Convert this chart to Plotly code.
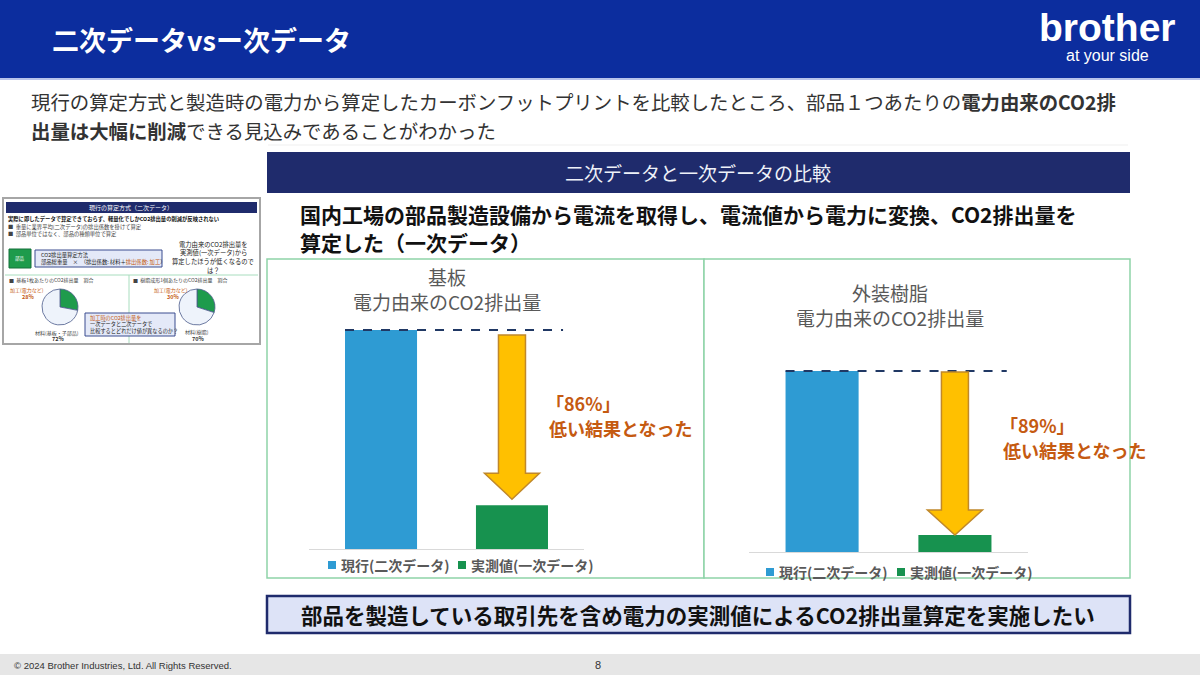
import plotly.graph_objects as go

W, H = 1200, 675
JP = "Noto Sans CJK JP"

# ---------------- data ----------------
categories = ["現行(二次データ)", "実測値(一次データ)"]
kiban_values = [100, 20]      # 基板 (relative)
jushi_values = [100, 9.4]     # 外装樹脂
chart_titles = ["基板<br>電力由来のCO2排出量", "外装樹脂<br>電力由来のCO2排出量"]
reduction_labels = ["「86%」", "「89%」"]
reduction_text = "低い結果となった"
pie_labels_kiban = ["加工(電力など)", "材料(基板・子部品)"]
pie_values_kiban = [28, 72]
pie_labels_jushi = ["加工(電力など)", "材料(樹脂)"]
pie_values_jushi = [30, 70]

BLUE = "#2E9BD3"
GREEN = "#17924F"
NAVY = "#1F2B6C"
ORANGE = "#C55A11"


def X(px):
    return px / W


def Y(py):
    return 1 - py / H


shapes = []
annotations = []


def rect(x0, y0, x1, y1, fill, line=None, lw=0, layer="below"):
    shapes.append(dict(type="rect", xref="paper", yref="paper",
                       x0=X(x0), x1=X(x1), y0=Y(y1), y1=Y(y0),
                       fillcolor=fill, layer=layer,
                       line=dict(color=line or fill, width=lw)))


def hline(x0, x1, y, color, lw=1, dash="solid", layer="below"):
    shapes.append(dict(type="line", xref="paper", yref="paper",
                       x0=X(x0), x1=X(x1), y0=Y(y), y1=Y(y),
                       line=dict(color=color, width=lw, dash=dash), layer=layer))


def vline(x, y0, y1, color, lw=1):
    shapes.append(dict(type="line", xref="paper", yref="paper",
                       x0=X(x), x1=X(x), y0=Y(y0), y1=Y(y1),
                       line=dict(color=color, width=lw), layer="below"))


def text(t, x, y, size, color="#262626", xanchor="left", bold=False, family=JP, align="left"):
    annotations.append(dict(text=t, x=X(x), y=Y(y), xref="paper", yref="paper",
                            xanchor=xanchor, yanchor="middle", showarrow=False,
                            align=align,
                            font=dict(size=size, color=color, family=family,
                                      weight="bold" if bold else "normal")))


# ---------------- header ----------------
rect(0, 0, 1200, 78, "#0C2D9E")
hline(0, 1200, 79, "#B7C3EA", 2)
text("二次データvsー次データ", 50, 40, 27, "white", bold=True)
text("brother", 1107, 28, 39, "white", "center", True, "Liberation Sans")
text("at your side", 1107, 55, 16, "white", "center", False, "Liberation Sans")

# ---------------- body text ----------------
text("現行の算定方式と製造時の電力から算定したカーボンフットプリントを比較したところ、部品１つあたりの<b>電力由来のCO2排</b>",
     29, 102, 19.4, "#333333")
text("<b>出量は大幅に削減</b>できる見込みであることがわかった", 29, 130, 19.4, "#333333")
hline(268, 1128, 145, "#EFEFEF", 1)

# section bar
rect(267, 152, 1130, 193, NAVY)
text("二次データと一次データの比較", 698, 173, 19, "#EEF1F8", "center")
text("国内工場の部品製造設備から電流を取得し、電流値から電力に変換、CO2排出量を", 298, 214, 21, "#111111", bold=True)
text("算定した（一次データ）", 298, 242, 21, "#111111", bold=True)

# chart panels
rect(267, 259, 704, 578, "white", "#8ED3A8", 1.5)
rect(704, 259, 1130, 578, "white", "#8ED3A8", 1.5)

# bottom box
rect(267, 596, 1130, 633, "#DDE3F7", NAVY, 2.5)
text("部品を製造している取引先を含め電力の実測値によるCO2排出量算定を実施したい", 698, 614, 21.5, "#111111", "center", True)

# footer
rect(0, 654, 1200, 675, "#E6E6E6")
text("© 2024 Brother Industries, Ltd. All Rights Reserved.", 12, 665, 9.5, "#333333", family="Liberation Sans")
text("8", 598, 665, 11, "#333333", "center", family="Liberation Sans")

# ---------------- thumbnail slide ----------------
rect(3, 198, 260, 344, "white", "#A6A6A6", 2)
rect(6, 202, 257, 213, NAVY)
text("現行の算定方式（二次データ）", 131, 207.5, 6, "white", "center")
text("実際に即したデータで算定できておらず、軽量化でしかCO2排出量の削減が反映されない", 6, 219, 5.3, "#111111", bold=True)
text("■  重量に業界平均(二次データ)の排出係数を掛けて算定", 6, 227, 5.3, "#444444")
text("■  部品単位ではなく、部品の種類単位で算定", 6, 234, 5.3, "#444444")
rect(9, 249, 31, 268, "#1E9B4C", "#14703A", 1)
text("部品", 20, 259, 4.5, "white", "center")
rect(35, 250, 162, 267, "#E4E9F8", "#3A4C8F", 1)
text("CO2排出量算定方法", 39, 255, 5.3, "#222222")
text("部品総重量　×　（排出係数: 材料＋<span style='color:#C55A11'>排出係数: 加工</span>）", 39, 262, 5.3, "#222222")
for i, ln in enumerate(["電力由来のCO2排出量を", "実測値(一次データ)から", "算定したほうが低くなるので", "は？"]):
    text(ln, 213, 244 + i * 8.7, 6.3, "#222222", "center")
hline(5, 258, 275, "#A8DDBE", 1)
vline(129, 275, 343, "#A8DDBE", 1)
text("■  基板1枚あたりのCO2排出量　割合", 7, 280, 5.0, "#444444")
text("■  樹脂成形1個あたりのCO2排出量　割合", 131, 280, 5.0, "#444444")
text("加工(電力など)", 27, 290, 5.0, ORANGE, "center")
text("28%", 28, 297, 5.5, ORANGE, "center", True)
text("材料(基板・子部品)", 57, 333, 5.0, "#444444", "center")
text("72%", 58, 339, 5.5, "#333333", "center", True)
text("加工(電力など)", 171, 290, 5.0, ORANGE, "center")
text("30%", 173, 297, 5.5, ORANGE, "center", True)
text("材料(樹脂)", 197, 332, 5.0, "#444444", "center")
text("70%", 198, 339, 5.5, "#333333", "center", True)
rect(85, 313, 175, 336, "#E4E9F8", "#3A4C8F", 1, layer="above")
text("<span style='color:#C55A11'>加工時のCO2排出量を</span>", 88, 318, 5.2, ORANGE)
text("一次データと二次データで", 88, 324.5, 5.2, "#222222")
text("比較するとどれだけ値が異なるのか？", 88, 331, 5.2, "#222222")

# ---------------- bar charts ----------------
XR = [-0.55, 1.55]
YR = [0, 110]
charts = [
    dict(vals=kiban_values, xa="x", ya="y", xd=(309, 584), yb=549, ytop100=330,
         title=chart_titles[0], tx=447, ty=289, lab=reduction_labels[0],
         lx=547, ly=403, top_gap=5, tip_gap=6, head=26, legx=(332, 462), legy=565),
    dict(vals=jushi_values, xa="x2", ya="y2", xd=(749, 1028), yb=552, ytop100=371,
         title=chart_titles[1], tx=890, ty=305, lab=reduction_labels[1],
         lx=1001, ly=425, top_gap=1, tip_gap=0, head=25, legx=(770, 901), legy=572),
]

fig = go.Figure()
layout_axes = {}
for i, c in enumerate(charts):
    px_per_y = (c["yb"] - c["ytop100"]) / 100.0
    y_top_px = c["yb"] - px_per_y * YR[1]
    px_per_x = (c["xd"][1] - c["xd"][0]) / (XR[1] - XR[0])
    sfx = "" if i == 0 else "2"
    layout_axes["xaxis" + sfx] = dict(domain=[X(c["xd"][0]), X(c["xd"][1])], range=XR,
                                      anchor="y" + sfx, showline=True, linecolor="#D9D9D9",
                                      linewidth=1, showticklabels=False, ticks="",
                                      showgrid=False, zeroline=False, fixedrange=True)
    layout_axes["yaxis" + sfx] = dict(domain=[Y(c["yb"]), Y(y_top_px)], range=YR,
                                      anchor="x" + sfx, visible=False, showgrid=False,
                                      fixedrange=True)
    for k, (cat, col) in enumerate(zip(categories, [BLUE, GREEN])):
        fig.add_trace(go.Bar(x=[k], y=[c["vals"][k]], name=cat, marker=dict(color=col, line=dict(width=0)),
                             width=0.55, xaxis=c["xa"], yaxis=c["ya"], showlegend=False,
                             hoverinfo="skip"))
        # legend entry (square + label)
        lx = c["legx"][k]
        rect(lx - 4, c["legy"] - 4, lx + 4, c["legy"] + 4, col, layer="above")
        text(cat, lx + 7, c["legy"], 14, "#595959", bold=True)
    # dashed reference line at level of current value
    fig.add_trace(go.Scatter(x=[-0.275, 1.39], y=[c["vals"][0]] * 2, mode="lines",
                             line=dict(color="#203864", width=2, dash="dash"),
                             xaxis=c["xa"], yaxis=c["ya"], showlegend=False, hoverinfo="skip"))
    # arrow (from current level down to measured value)
    xc = 1.0
    sh = 13.5 / px_per_x
    hh = 27.5 / px_per_x
    top = c["vals"][0] - c["top_gap"] / px_per_y
    tip = c["vals"][1] + c["tip_gap"] / px_per_y
    hb = tip + c["head"] / px_per_y
    path = (f"M{xc - sh},{top} L{xc + sh},{top} L{xc + sh},{hb} L{xc + hh},{hb} "
            f"L{xc},{tip} L{xc - hh},{hb} L{xc - sh},{hb} Z")
    shapes.append(dict(type="path", path=path, xref=c["xa"], yref=c["ya"],
                       fillcolor="#FFC000", line=dict(color="#C0882A", width=1.5), layer="above"))
    # titles and labels
    annotations.append(dict(text=c["title"], x=X(c["tx"]), y=Y(c["ty"]), xref="paper", yref="paper",
                            showarrow=False, xanchor="center", yanchor="middle", align="center",
                            font=dict(size=19, color="#595959", family=JP)))
    text(c["lab"], c["lx"] - 3, c["ly"], 18, ORANGE, bold=True)
    text(reduction_text, c["lx"], c["ly"] + 25, 18, ORANGE, bold=True)

fig.update_layout(
    width=W, height=H, margin=dict(l=0, r=0, t=0, b=0),
    paper_bgcolor="white", plot_bgcolor="rgba(0,0,0,0)",
    barmode="overlay", showlegend=False,
    shapes=shapes, annotations=annotations,
    **layout_axes,
)

# thumbnail pies
fig.add_trace(go.Pie(values=pie_values_kiban, labels=pie_labels_kiban, sort=False,
                     direction="counterclockwise", rotation=0,
                     marker=dict(colors=["#1E9B4C", "#EEF3FB"], line=dict(color="#4A5A8A", width=0.8)),
                     textinfo="none", hoverinfo="skip", showlegend=False,
                     domain=dict(x=[X(42), X(78)], y=[Y(325), Y(289)])))
fig.add_trace(go.Pie(values=pie_values_jushi, labels=pie_labels_jushi, sort=False,
                     direction="counterclockwise", rotation=0,
                     marker=dict(colors=["#1E9B4C", "#EEF3FB"], line=dict(color="#4A5A8A", width=0.8)),
                     textinfo="none", hoverinfo="skip", showlegend=False,
                     domain=dict(x=[X(179), X(215)], y=[Y(325), Y(289)])))

fig.write_html("out.html")
